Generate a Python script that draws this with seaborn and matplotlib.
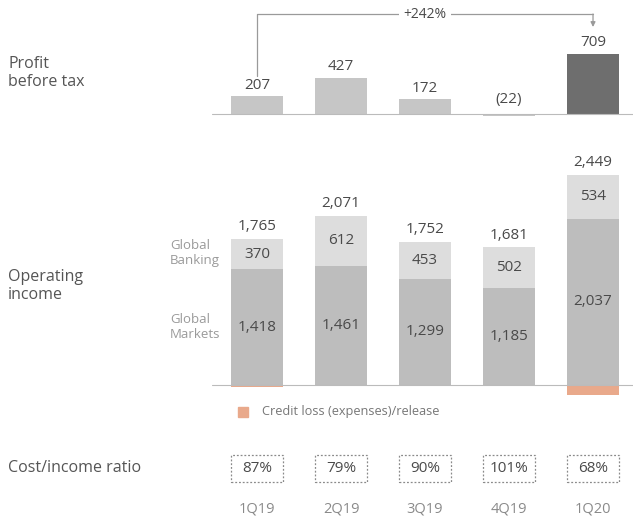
import matplotlib.pyplot as plt
import matplotlib.transforms as mtransforms
from matplotlib.patches import Rectangle
import pandas as pd
import seaborn as sns

sns.set_theme(style="white")
plt.rcParams['font.family'] = ['Open Sans', 'DejaVu Sans']

# %% data
quarters = ['1Q19', '2Q19', '3Q19', '4Q19', '1Q20']
profit = [207, 427, 172, -22, 709]
profit_labels = ['207', '427', '172', '(22)', '709']
markets = [1418, 1461, 1299, 1185, 2037]
banking = [370, 612, 453, 502, 534]
credit_loss = [-23, -2, 0, -6, -122]
total_labels = ['1,765', '2,071', '1,752', '1,681', '2,449']
markets_labels = ['1,418', '1,461', '1,299', '1,185', '2,037']
cost_income = ['87%', '79%', '90%', '101%', '68%']
growth = '+242%'

df = pd.DataFrame({'quarter': quarters, 'profit': profit, 'markets': markets,
                   'banking': banking, 'credit_loss': credit_loss})
df['stack'] = df['markets'] + df['banking']

C_LIGHT = '#c6c6c6'
C_DARK = '#6e6e6e'
C_MARKETS = '#bdbdbd'
C_BANKING = '#dddddd'
C_SALMON = '#e9a98b'
C_TEXT = '#4a4a4a'
C_LINE = '#9a9a9a'

W, H = 633, 524
fig = plt.figure(figsize=(W / 100, H / 100), dpi=100)


def box(left, top, width, height):
    return [left / W, 1 - (top + height) / H, width / W, height / H]


XLIM = (-0.536, 4.476)
BAR_W = 0.61
bar_kws = dict(width=BAR_W, saturation=1, linewidth=0)

# %% profit before tax
k1 = 0.085
ax1 = fig.add_axes(box(212, 0, 421, 122))
sns.barplot(data=df, x='quarter', y='profit', hue='quarter', order=quarters,
            palette=[C_LIGHT] * 4 + [C_DARK], legend=False, ax=ax1, **bar_kws)
ax1.set_xlim(*XLIM)
ax1.set_ylim(-8 / k1, 114 / k1)
ax1.axhline(0, color='#bbbbbb', lw=0.8)
for i, (v, lab) in enumerate(zip(profit, profit_labels)):
    ax1.text(i, max(v, 0) + 11 / k1 + (3 / k1 if v < 0 else 0), lab,
             ha='center', va='center', fontsize=11, color=C_TEXT)

# growth arrow 1Q19 -> 1Q20
y_top = 100 / k1
ax1.plot([0, 0, 4], [profit[0] + 20 / k1, y_top, y_top], color=C_LINE, lw=0.9,
         clip_on=False)
ax1.annotate('', xy=(4, y_top - 13 / k1), xytext=(4, y_top),
             arrowprops=dict(arrowstyle='-|>', color=C_LINE, lw=0.9,
                             mutation_scale=7, shrinkA=0, shrinkB=0),
             annotation_clip=False)
ax1.text(2, y_top, growth, ha='center', va='center', fontsize=10, color=C_TEXT,
         bbox=dict(fc='white', ec='none', pad=3))

# %% operating income
k2 = 0.0817
ax2 = fig.add_axes(box(212, 150, 421, 250))
sns.barplot(data=df, x='quarter', y='stack', order=quarters, color=C_BANKING,
            ax=ax2, **bar_kws)
sns.barplot(data=df, x='quarter', y='markets', order=quarters, color=C_MARKETS,
            ax=ax2, **bar_kws)
sns.barplot(data=df, x='quarter', y='credit_loss', order=quarters, color=C_SALMON,
            ax=ax2, **bar_kws)
ax2.set_xlim(*XLIM)
ax2.set_ylim(-15 / k2, 235 / k2)
ax2.axhline(0, color='#bbbbbb', lw=0.8)
for i in range(len(quarters)):
    ax2.text(i, df['stack'][i] + 12 / k2, total_labels[i], ha='center', va='center',
             fontsize=11, color=C_TEXT)
    ax2.text(i, markets[i] + banking[i] / 2, str(banking[i]), ha='center',
             va='center', fontsize=11, color=C_TEXT)
    ax2.text(i, markets[i] / 2, markets_labels[i], ha='center', va='center',
             fontsize=11, color=C_TEXT)

for ax in (ax1, ax2):
    ax.set_axis_off()

# %% labels, legend, cost/income boxes
fig.text(8 / W, 1 - 73 / H, 'Profit\nbefore tax', ha='left', va='center',
         fontsize=11.5, color='#555555', linespacing=1.2)
fig.text(8 / W, 1 - 286 / H, 'Operating\nincome', ha='left', va='center',
         fontsize=11.5, color='#555555', linespacing=1.2)
fig.text(8 / W, 1 - 468 / H, 'Cost/income ratio', ha='left', va='center',
         fontsize=11.5, color='#555555')
fig.text(170 / W, 1 - 253 / H, 'Global\nBanking', ha='left', va='center',
         fontsize=9.5, color='#9a9a9a', linespacing=1.2)
fig.text(170 / W, 1 - 327 / H, 'Global\nMarkets', ha='left', va='center',
         fontsize=9.5, color='#9a9a9a', linespacing=1.2)

fig.patches.append(Rectangle((238 / W, 1 - 417 / H), 10 / W, 10 / H,
                             transform=fig.transFigure, color=C_SALMON))
fig.text(262 / W, 1 - 412 / H, 'Credit loss (expenses)/release', ha='left',
         va='center', fontsize=9.2, color='#777777')

trans = mtransforms.blended_transform_factory(ax2.transData, fig.transFigure)
for i, r in enumerate(cost_income):
    ax2.add_patch(Rectangle((i - 0.31, 1 - 482 / H), 0.62, 27 / H, transform=trans,
                            fill=False, ec='#8a8a8a', lw=0.9, ls=(0, (1.5, 1.5)),
                            clip_on=False))
    ax2.text(i, 1 - 469 / H, r, transform=trans, ha='center', va='center',
             fontsize=11, color=C_TEXT)
    ax2.text(i, 1 - 509 / H, quarters[i], transform=trans, ha='center',
             va='center', fontsize=10.5, color='#8a8a8a')

fig.savefig('out.png', dpi=100)
